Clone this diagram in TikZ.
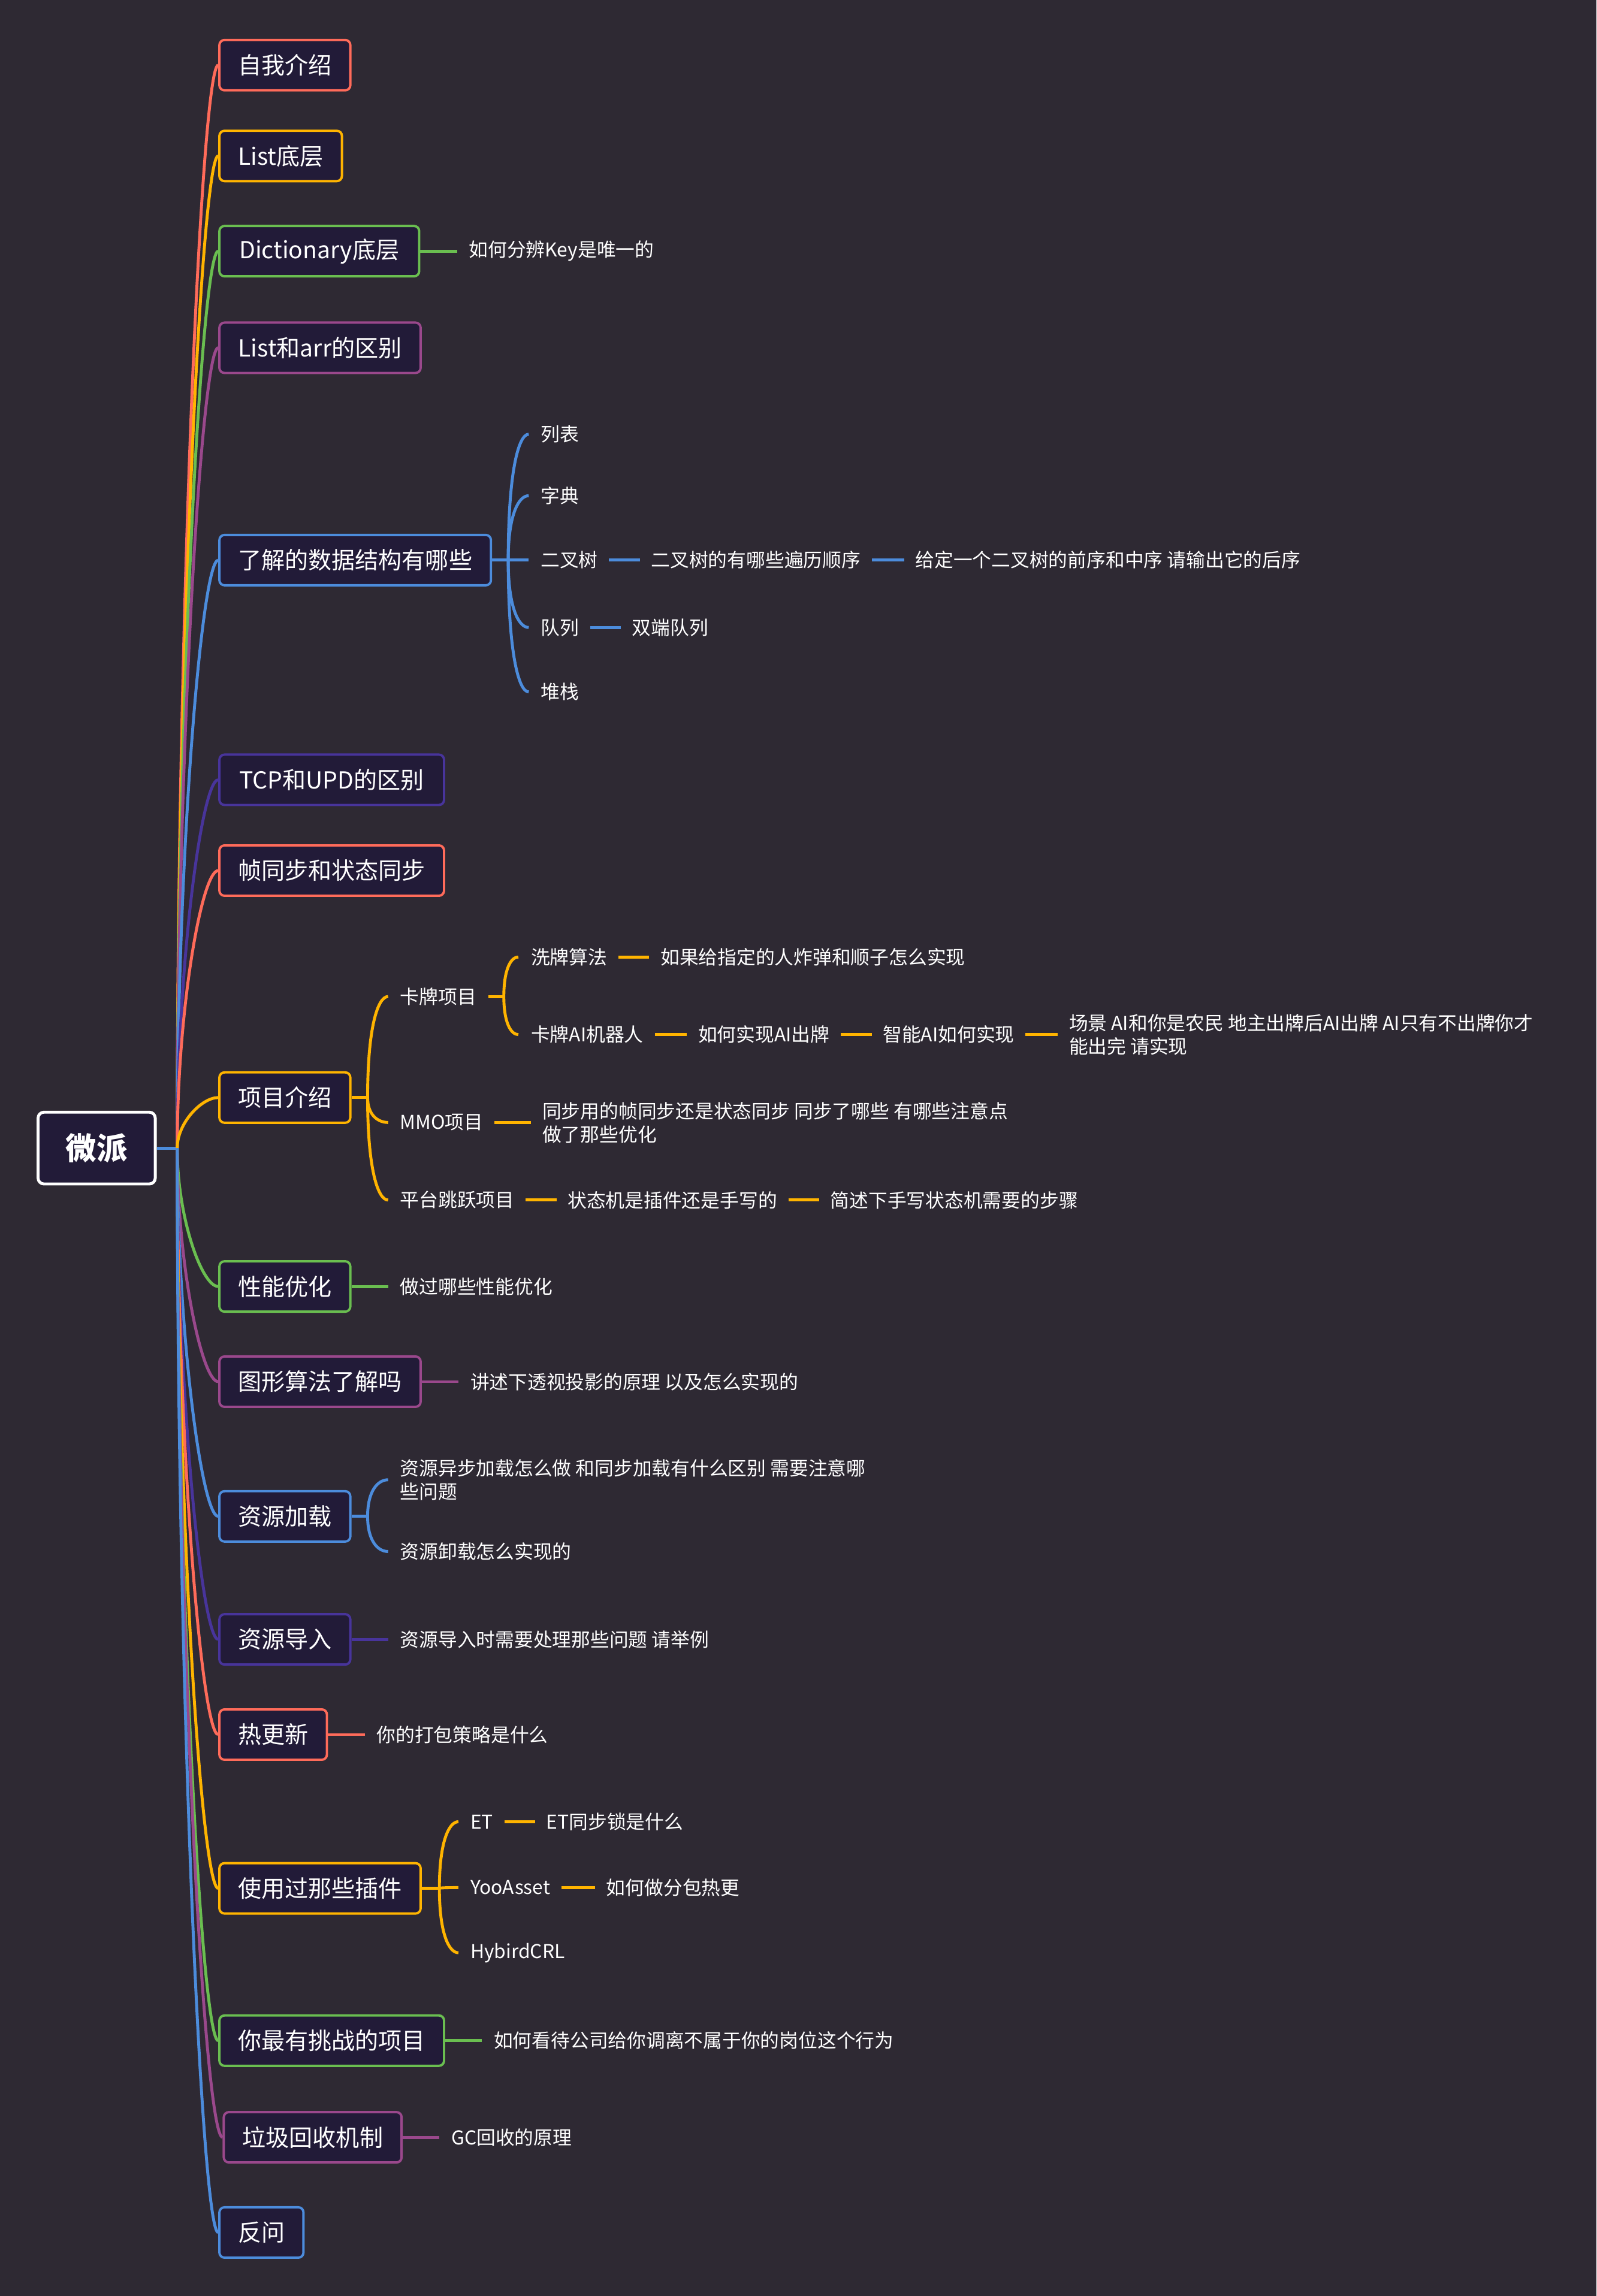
\documentclass[tikz,border=0pt]{standalone}
\usepackage{fontspec}
\setmainfont{Noto Sans CJK SC}
\usetikzlibrary{calc,positioning}
\definecolor{bg}{RGB}{46,41,51}
\definecolor{boxfill}{RGB}{34,27,56}
\definecolor{ccoral}{RGB}{255,107,90}
\definecolor{cyellow}{RGB}{255,180,0}
\definecolor{cgreen}{RGB}{106,190,80}
\definecolor{cpurple}{RGB}{154,72,140}
\definecolor{cblue}{RGB}{76,140,220}
\definecolor{cindigo}{RGB}{72,52,155}
\newcommand{\maincurve}[3]{\draw[branch,#1] let \p1=(#2), \p2=(#3) in (\p1) .. controls (\x1,{\y1+0.5*(\y2-\y1)}) and ({\x1+0.6*(\x2-\x1)},\y2) .. (\p2);}
\newcommand{\brcurve}[3]{\draw[branch,#1] let \p1=(#2), \p2=(#3) in (\p1) .. controls (\x1,{\y1+0.7*(\y2-\y1)}) and ({\x1+0.5*(\x2-\x1)},\y2) .. (\p2);}
\newcommand{\chainline}[3]{\draw[branch,#1] ([xshift=7.5pt]#2.east) -- ([xshift=-7.5pt]#3.west);}
\newcommand{\boxline}[3]{\draw[branch,#1] (#2.east) -- ([xshift=-8pt]#3.west);}
\begin{document}
\begin{tikzpicture}[x=1pt,y=-1pt,
  branch/.style={line width=2pt},
  l1box/.style={draw=#1, fill=boxfill, line width=1.6pt, rounded corners=3.5pt, minimum height=34.4pt, inner xsep=12.7pt, inner ysep=0pt, anchor=west, text=white, font=\fontsize{16}{19}\selectfont},
  leaf/.style={anchor=west, inner sep=0pt, text=white, align=left, font=\fontsize{13}{16}\selectfont},
  rootbox/.style={draw=white, fill=boxfill, line width=2pt, rounded corners=4pt, minimum width=80pt, minimum height=49pt, text=white, font=\fontsize{21}{25}\selectfont\bfseries}
]
\fill[bg] (0,0) rectangle (1090,1567.9);
\useasboundingbox (0,0) rectangle (1090,1567.9);

% root
\node[rootbox] (root) at (66,784) {微派};
\coordinate (T) at (121,784);

% level 1
\node[l1box=ccoral]  (b1)  at (149,44.5)   {自我介绍};
\node[l1box=cyellow, minimum width=83.4pt] (b2)  at (149,106.5)  {List底层};
\node[l1box=cgreen, minimum width=136.4pt]  (b3)  at (149,171.5)  {Dictionary底层};
\node[l1box=cpurple, minimum width=137.4pt] (b4)  at (149,237.5)  {List和arr的区别};
\node[l1box=cblue]   (b5)  at (149,382.5)  {了解的数据结构有哪些};
\node[l1box=cindigo, minimum width=153.4pt] (b6)  at (149,532.5)  {TCP和UPD的区别};
\node[l1box=ccoral]  (b7)  at (149,594.5)  {帧同步和状态同步};
\node[l1box=cyellow] (b8)  at (149,749.5)  {项目介绍};
\node[l1box=cgreen]  (b9)  at (149,878.5)  {性能优化};
\node[l1box=cpurple] (b10) at (149,943.5)  {图形算法了解吗};
\node[l1box=cblue]   (b11) at (149,1035.5) {资源加载};
\node[l1box=cindigo] (b12) at (149,1119.5) {资源导入};
\node[l1box=ccoral]  (b13) at (149,1184.5) {热更新};
\node[l1box=cyellow] (b14) at (149,1289.5) {使用过那些插件};
\node[l1box=cgreen]  (b15) at (149,1393.5) {你最有挑战的项目};
\node[l1box=cpurple] (b16) at (152,1459.5) {垃圾回收机制};
\node[l1box=cblue]   (b17) at (149,1524.5) {反问};

% Dictionary
\node[leaf, right=33pt of b3] (c3) {如何分辨Key是唯一的};

% data structures
\coordinate (b5j) at ([xshift=11pt]b5.east);
\coordinate (b5x) at ([xshift=33pt]b5.east);
\node[leaf] (d1) at (b5x |- 0,296.5) {列表};
\node[leaf] (d2) at (b5x |- 0,338.5) {字典};
\node[leaf] (d3) at (b5x |- 0,382.5) {二叉树};
\node[leaf] (d4) at (b5x |- 0,428.5) {队列};
\node[leaf] (d5) at (b5x |- 0,472.5) {堆栈};
\node[leaf, right=36pt of d3]  (d3a) {二叉树的有哪些遍历顺序};
\node[leaf, right=37pt of d3a] (d3b) {给定一个二叉树的前序和中序 请输出它的后序};
\node[leaf, right=36pt of d4]  (d4a) {双端队列};

% project intro
\coordinate (b8j) at ([xshift=11pt]b8.east);
\coordinate (b8x) at ([xshift=33pt]b8.east);
\node[leaf] (p1) at (b8x |- 0,680.5) {卡牌项目};
\node[leaf] (p2) at (b8x |- 0,766.5) {MMO项目};
\node[leaf] (p3) at (b8x |- 0,819.5) {平台跳跃项目};
\coordinate (p1j) at ([xshift=18.6pt]p1.east);
\coordinate (p1x) at ([xshift=37pt]p1.east);
\node[leaf] (q1) at (p1x |- 0,653.5) {洗牌算法};
\node[leaf] (q2) at (p1x |- 0,706.5) {卡牌AI机器人};
\node[leaf, right=36pt of q1]  (q1a) {如果给指定的人炸弹和顺子怎么实现};
\node[leaf, right=37pt of q2]  (q2a) {如何实现AI出牌};
\node[leaf, right=36pt of q2a] (q2b) {智能AI如何实现};
\node[leaf, right=37pt of q2b] (q2c) {场景 AI和你是农民 地主出牌后AI出牌 AI只有不出牌你才\\能出完 请实现};
\node[leaf, right=40pt of p2]  (p2a) {同步用的帧同步还是状态同步 同步了哪些 有哪些注意点\\做了那些优化};
\node[leaf, right=36pt of p3]  (p3a) {状态机是插件还是手写的};
\node[leaf, right=36pt of p3a] (p3b) {简述下手写状态机需要的步骤};

% singles
\node[leaf, right=33pt of b9]  (c9)  {做过哪些性能优化};
\node[leaf, right=33pt of b10] (c10) {讲述下透视投影的原理 以及怎么实现的};

% resources loading
\coordinate (b11j) at ([xshift=11pt]b11.east);
\coordinate (b11x) at ([xshift=33pt]b11.east);
\node[leaf] (r1) at (b11x |- 0,1010.5) {资源异步加载怎么做 和同步加载有什么区别 需要注意哪\\些问题};
\node[leaf] (r2) at (b11x |- 0,1059.5) {资源卸载怎么实现的};

\node[leaf, right=33pt of b12] (c12) {资源导入时需要处理那些问题 请举例};
\node[leaf, right=33pt of b13] (c13) {你的打包策略是什么};

% plugins
\coordinate (b14j) at ([xshift=12pt]b14.east);
\coordinate (b14x) at ([xshift=33pt]b14.east);
\node[leaf] (s1) at (b14x |- 0,1244) {ET};
\node[leaf] (s2) at (b14x |- 0,1289) {YooAsset};
\node[leaf] (s3) at (b14x |- 0,1333.5) {HybirdCRL};
\node[leaf, right=36pt of s1] (s1a) {ET同步锁是什么};
\node[leaf, right=38pt of s2] (s2a) {如何做分包热更};

\node[leaf, right=33pt of b15] (c15) {如何看待公司给你调离不属于你的岗位这个行为};
\node[leaf, right=33pt of b16] (c16) {GC回收的原理};

% ---------- connectors ----------
\draw[branch,cblue] (root.east) -- (T);
\maincurve{ccoral}{T}{b1.west}
\maincurve{cyellow}{T}{b2.west}
\maincurve{cgreen}{T}{b3.west}
\maincurve{cpurple}{T}{b4.west}
\maincurve{cblue}{T}{b5.west}
\maincurve{cindigo}{T}{b6.west}
\maincurve{ccoral}{T}{b7.west}
\maincurve{cyellow}{T}{b8.west}
\maincurve{cgreen}{T}{b9.west}
\maincurve{cpurple}{T}{b10.west}
\maincurve{cblue}{T}{b11.west}
\maincurve{cindigo}{T}{b12.west}
\maincurve{ccoral}{T}{b13.west}
\maincurve{cyellow}{T}{b14.west}
\maincurve{cgreen}{T}{b15.west}
\maincurve{cpurple}{T}{b16.west}
\maincurve{cblue}{T}{b17.west}

\boxline{cgreen}{b3}{c3}

\draw[branch,cblue] (b5.east) -- (b5j);
\brcurve{cblue}{b5j}{[xshift=-8pt]d1.west}
\brcurve{cblue}{b5j}{[xshift=-8pt]d2.west}
\brcurve{cblue}{b5j}{[xshift=-8pt]d3.west}
\brcurve{cblue}{b5j}{[xshift=-8pt]d4.west}
\brcurve{cblue}{b5j}{[xshift=-8pt]d5.west}
\chainline{cblue}{d3}{d3a}
\chainline{cblue}{d3a}{d3b}
\chainline{cblue}{d4}{d4a}

\draw[branch,cyellow] (b8.east) -- (b8j);
\brcurve{cyellow}{b8j}{[xshift=-8pt]p1.west}
\brcurve{cyellow}{b8j}{[xshift=-8pt]p2.west}
\brcurve{cyellow}{b8j}{[xshift=-8pt]p3.west}
\draw[branch,cyellow] ([xshift=8pt]p1.east) -- (p1j);
\brcurve{cyellow}{p1j}{[xshift=-8.5pt]q1.west}
\brcurve{cyellow}{p1j}{[xshift=-8.5pt]q2.west}
\chainline{cyellow}{q1}{q1a}
\chainline{cyellow}{q2}{q2a}
\chainline{cyellow}{q2a}{q2b}
\chainline{cyellow}{q2b}{q2c}
\chainline{cyellow}{p2}{p2a}
\chainline{cyellow}{p3}{p3a}
\chainline{cyellow}{p3a}{p3b}

\boxline{cgreen}{b9}{c9}
\boxline{cpurple}{b10}{c10}

\draw[branch,cblue] (b11.east) -- (b11j);
\brcurve{cblue}{b11j}{[xshift=-8pt]r1.west}
\brcurve{cblue}{b11j}{[xshift=-8pt]r2.west}

\boxline{cindigo}{b12}{c12}
\boxline{ccoral}{b13}{c13}

\draw[branch,cyellow] (b14.east) -- (b14j);
\brcurve{cyellow}{b14j}{[xshift=-8pt]s1.west}
\brcurve{cyellow}{b14j}{[xshift=-8pt]s2.west}
\brcurve{cyellow}{b14j}{[xshift=-8pt]s3.west}
\chainline{cyellow}{s1}{s1a}
\chainline{cyellow}{s2}{s2a}

\boxline{cgreen}{b15}{c15}
\boxline{cpurple}{b16}{c16}
\end{tikzpicture}
\end{document}
